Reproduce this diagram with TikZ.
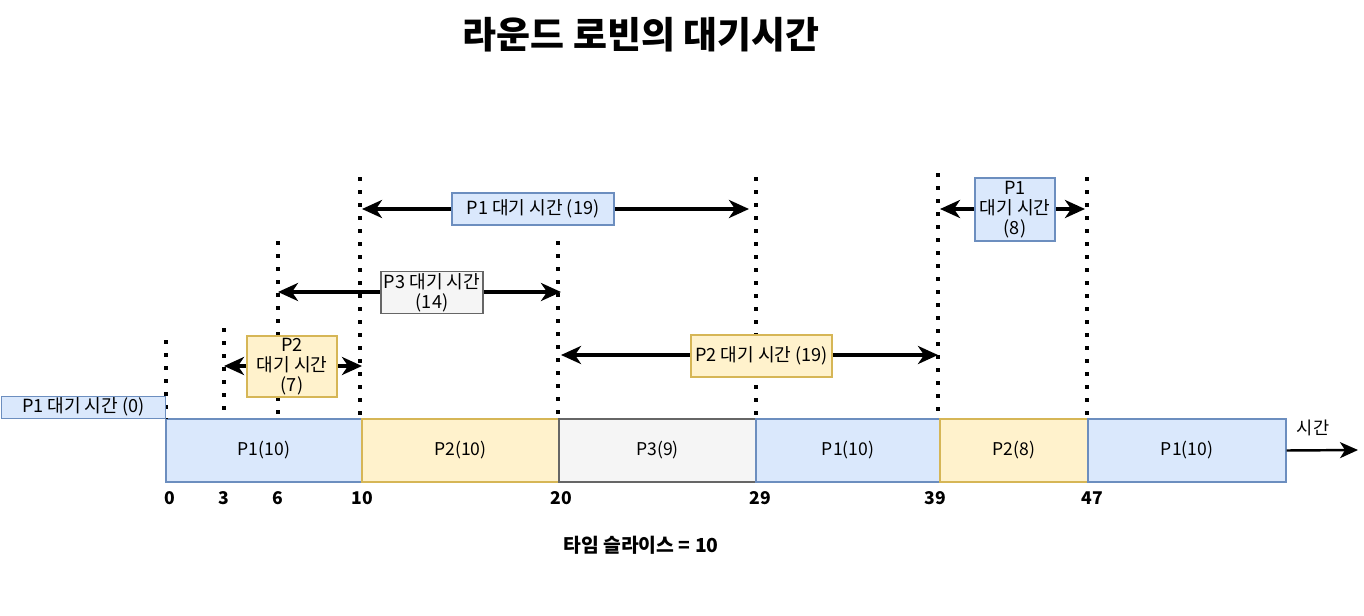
\documentclass[tikz,border=0pt]{standalone}
\usepackage{fontspec}
\setmainfont{Noto Sans CJK KR}
\usepackage{tikz}
\usetikzlibrary{arrows.meta,positioning}
\definecolor{bluefill}{HTML}{DAE8FC}
\definecolor{bluedraw}{HTML}{6C8EBF}
\definecolor{yelfill}{HTML}{FFF2CC}
\definecolor{yeldraw}{HTML}{D6B656}
\definecolor{grayfill}{HTML}{F5F5F5}
\definecolor{graydraw}{HTML}{666666}
\tikzset{
  slot/.style={
    draw,
    line width=0.8pt,
    minimum height=1.26cm,
    inner sep=0pt,
    font=\fontsize{10}{11}\selectfont
  },
  tag/.style={
    draw,
    line width=0.8pt,
    align=center,
    inner sep=1pt,
    font=\fontsize{10.3}{11.2}\selectfont
  },
  p1/.style={fill=bluefill, draw=bluedraw},
  p2/.style={fill=yelfill, draw=yeldraw},
  p3/.style={fill=grayfill, draw=graydraw},
  tick/.style={font=\bfseries\fontsize{10}{11}\selectfont},
  guide/.style={line width=2.2pt, dash pattern=on 2.2pt off 5.2pt},
  span/.style={{Stealth[length=4mm,width=3.6mm,inset=1.2mm]}-{Stealth[length=4mm,width=3.6mm,inset=1.2mm]}, line width=2.2pt},
  axis/.style={-{Stealth[length=3.6mm,width=3.2mm,inset=1mm]}, line width=1.4pt}
}

\begin{document}
\begin{tikzpicture}[x=0.02cm,y=-0.02cm]
  \useasboundingbox (0,0) rectangle (1364,615);

  \node[font=\bfseries\fontsize{21}{24}\selectfont] (title) at (641,35) {라운드 로빈의 대기시간};

  % timeline
  \node[slot, p1, minimum width=3.92cm] (s1) at (264,450.5) {P1(10)};
  \node[slot, p2, minimum width=3.94cm] (s2) at (460.5,450.5) {P2(10)};
  \node[slot, p3, minimum width=3.94cm] (s3) at (657.5,450.5) {P3(9)};
  \node[slot, p1, minimum width=3.68cm] (s4) at (848,450.5) {P1(10)};
  \node[slot, p2, minimum width=2.96cm] (s5) at (1014,450.5) {P2(8)};
  \node[slot, p1, minimum width=3.96cm] (s6) at (1187,450.5) {P1(10)};

  \coordinate (tend) at (1358,450);
  \draw[axis] (s6.east) -- (tend);
  \node[font=\fontsize{10}{11}\selectfont] (tlabel) at (1313,428) {시간};

  % guides
  \coordinate (g0a) at (166,340);  \coordinate (g0b) at (166,419);
  \coordinate (g3a) at (224,328);  \coordinate (g3b) at (224,419);
  \coordinate (g6a) at (278,241);  \coordinate (g6b) at (278,419);
  \coordinate (g10a) at (360,177); \coordinate (g10b) at (360,419);
  \coordinate (g20a) at (558,241); \coordinate (g20b) at (558,419);
  \coordinate (g29a) at (756,177); \coordinate (g29b) at (756,419);
  \coordinate (g39a) at (938,173); \coordinate (g39b) at (938,419);
  \coordinate (g47a) at (1087,177); \coordinate (g47b) at (1087,419);
  \foreach \g in {g0,g3,g6,g10,g20,g29,g39,g47}
    \draw[guide] (\g a) -- (\g b);

  % ticks
  \node[tick] (t0) at (170,498) {0};
  \node[tick] (t3) at (224,498) {3};
  \node[tick] (t6) at (278,498) {6};
  \node[tick] (t10) at (362,498) {10};
  \node[tick] (t20) at (561,498) {20};
  \node[tick] (t29) at (760,498) {29};
  \node[tick] (t39) at (935,498) {39};
  \node[tick] (t47) at (1092,498) {47};

  % waiting spans
  \draw[span] (224,366) coordinate (w2a) -- (362,366) coordinate (w2b);
  \draw[span] (278,292) coordinate (w3a) -- (561,292) coordinate (w3b);
  \draw[span] (362,209) coordinate (w1a) -- (749,209) coordinate (w1b);
  \draw[span] (561,355) coordinate (w4a) -- (938,355) coordinate (w4b);
  \draw[span] (940,209) coordinate (w5a) -- (1085,209) coordinate (w5b);

  \node[tag, p1, minimum width=3.28cm, minimum height=0.42cm, anchor=south east] (wait0) at (166,419) {P1 대기 시간 (0)};
  \node[tag, p2, minimum width=1.8cm, minimum height=1.22cm] (wait2) at (292,366.5) {P2\\대기 시간\\(7)};
  \node[tag, p3, minimum width=2.04cm, minimum height=0.82cm] (wait3) at (432,292.5) {P3 대기 시간\\(14)};
  \node[tag, p1, minimum width=3.24cm, minimum height=0.64cm] (wait1) at (533,209) {P1 대기 시간 (19)};
  \node[tag, p2, minimum width=2.82cm, minimum height=0.84cm] (wait4) at (761.5,356) {P2 대기 시간 (19)};
  \node[tag, p1, minimum width=1.6cm, minimum height=1.26cm] (wait5) at (1015,209.5) {P1\\대기 시간\\(8)};

  \node[font=\bfseries\fontsize{11}{12}\selectfont] (slice) at (641,545) {타임 슬라이스 = 10};
\end{tikzpicture}
\end{document}
